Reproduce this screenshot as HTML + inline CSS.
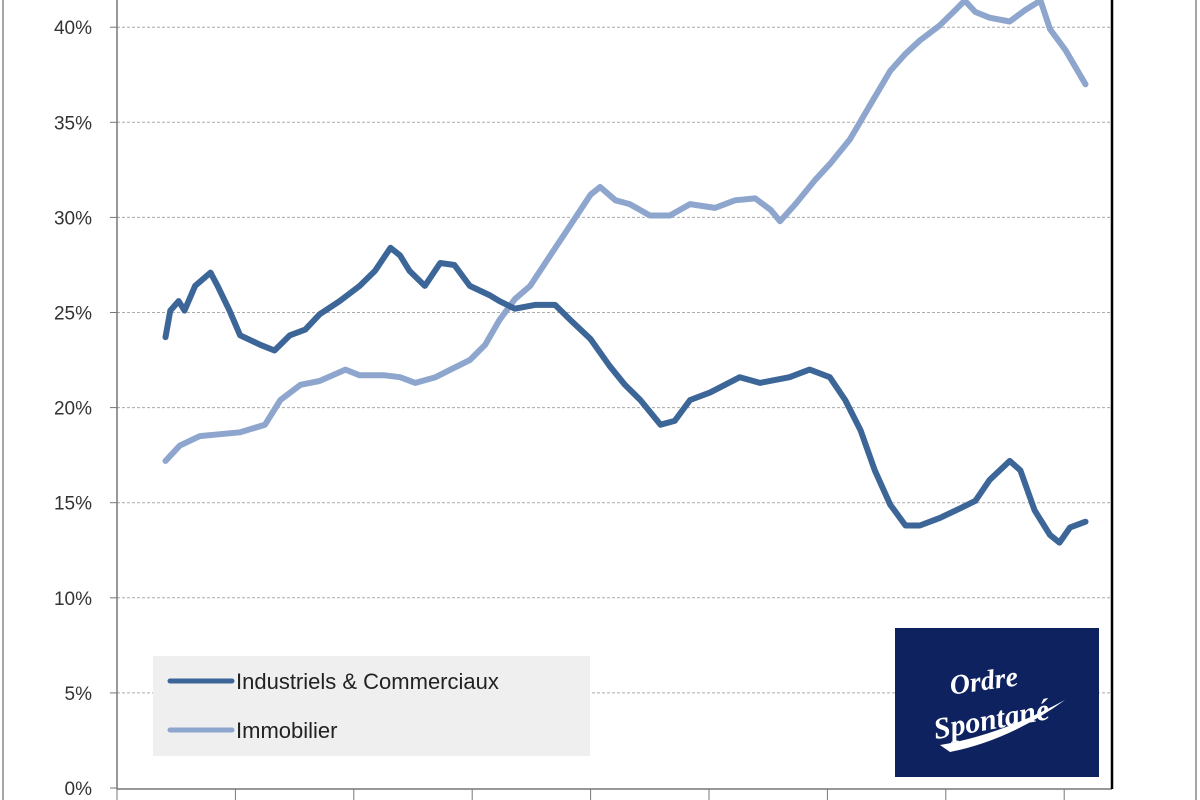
<!DOCTYPE html>
<html><head><meta charset="utf-8"><style>
html,body{margin:0;padding:0;background:#fff;}
svg{display:block;font-family:"Liberation Sans",sans-serif;}
</style></head><body>
<svg id="chart" width="1200" height="800" viewBox="0 0 1200 800">
<rect x="3" y="-5" width="1193" height="810" fill="#fff" stroke="#888" stroke-width="1.5"/>
<g id="grid"></g>
<g id="yticks"></g>
<g id="xticks"></g>
<line x1="117" y1="0" x2="117" y2="789" stroke="#777" stroke-width="1.5"/>
<line x1="117" y1="789" x2="1112" y2="789" stroke="#777" stroke-width="1.5"/>
<line x1="1112" y1="0" x2="1112" y2="789" stroke="#000" stroke-width="2.5"/>
<g id="series"></g>
<g>
<rect x="153" y="656" width="437" height="100" fill="#efefef"/>
<line x1="170" y1="681" x2="232" y2="681" stroke="#3d6698" stroke-width="5" stroke-linecap="round"/>
<text x="236" y="689" font-size="22" fill="#222">Industriels &amp; Commerciaux</text>
<line x1="170" y1="730" x2="232" y2="730" stroke="#8ea6cd" stroke-width="5" stroke-linecap="round"/>
<text x="236" y="738" font-size="22" fill="#222">Immobilier</text>
</g>
<g>
<rect x="895" y="628" width="204" height="149" fill="#0e2260"/>
<text x="985" y="690" font-size="28" font-weight="bold" font-style="italic" font-family="Liberation Serif,serif" fill="#fff" text-anchor="middle" transform="rotate(-8 985 690)">Ordre</text>
<text x="993" y="729" font-size="30" font-weight="bold" font-style="italic" font-family="Liberation Serif,serif" fill="#fff" text-anchor="middle" transform="rotate(-10 993 729)">Spontané</text>
<path d="M940 745 Q1000 735 1065 700 Q1010 740 950 752 Z" fill="#fff"/>
</g>
</svg>
<script>
const yTicks = [0,5,10,15,20,25,30,35,40];
const xTickCount = [0,1,2,3,4,5,6,7,8];
const indT = [0.41,0.45,0.52,0.57,0.66,0.79,0.85,0.95,1.04,1.21,1.33,1.46,1.59,1.71,1.88,2.05,2.18,2.31,2.39,2.47,2.60,2.73,2.85,2.98,3.15,3.23,3.36,3.53,3.70,3.83,4.00,4.16,4.29,4.42,4.59,4.71,4.84,5.01,5.26,5.43,5.68,5.85,6.02,6.15,6.28,6.40,6.53,6.66,6.78,6.95,7.12,7.25,7.37,7.54,7.63,7.75,7.88,7.96,8.05,8.18];
const indV = [23.7,25.1,25.6,25.1,26.4,27.1,26.4,25.1,23.8,23.3,23.0,23.8,24.1,24.9,25.6,26.4,27.2,28.4,28.0,27.2,26.4,27.6,27.5,26.4,25.9,25.6,25.2,25.4,25.4,24.6,23.6,22.2,21.2,20.4,19.1,19.3,20.4,20.8,21.6,21.3,21.6,22.0,21.6,20.4,18.8,16.7,14.9,13.8,13.8,14.2,14.7,15.1,16.2,17.2,16.7,14.6,13.3,12.9,13.7,14.0];
const immT = [0.41,0.53,0.70,0.87,1.04,1.25,1.38,1.55,1.71,1.93,2.05,2.26,2.39,2.52,2.69,2.85,2.98,3.11,3.23,3.36,3.49,3.66,3.83,4.00,4.08,4.21,4.33,4.50,4.67,4.84,5.05,5.22,5.39,5.52,5.60,5.73,5.90,6.02,6.19,6.36,6.53,6.66,6.78,6.95,7.08,7.16,7.25,7.37,7.54,7.67,7.80,7.88,8.01,8.18];
const immV = [17.2,18.0,18.5,18.6,18.7,19.1,20.4,21.2,21.4,22.0,21.7,21.7,21.6,21.3,21.6,22.1,22.5,23.3,24.6,25.7,26.4,28.0,29.6,31.2,31.6,30.9,30.7,30.1,30.1,30.7,30.5,30.9,31.0,30.4,29.8,30.7,32.0,32.8,34.1,35.9,37.7,38.6,39.3,40.1,40.9,41.4,40.8,40.5,40.3,40.9,41.4,39.9,38.8,37.0];

const NS = "http://www.w3.org/2000/svg";
const xS = t => 117 + t * 118.4;
const yS = v => 788 - v * 19.02;
const grid = document.getElementById('grid');
const yt = document.getElementById('yticks');
yTicks.forEach(v => {
  if (v > 0) {
    const l = document.createElementNS(NS, 'line');
    l.setAttribute('x1', 117); l.setAttribute('x2', 1110);
    l.setAttribute('y1', yS(v)); l.setAttribute('y2', yS(v));
    l.setAttribute('stroke', '#aaa'); l.setAttribute('stroke-dasharray', '3,2');
    
    
    grid.appendChild(l);
  }
  const tk = document.createElementNS(NS, 'line');
  tk.setAttribute('x1', 110); tk.setAttribute('x2', 117);
  tk.setAttribute('y1', yS(v)); tk.setAttribute('y2', yS(v));
  tk.setAttribute('stroke', '#777');
  
  
  yt.appendChild(tk);
  const t = document.createElementNS(NS, 'text');
  t.setAttribute('x', 92); t.setAttribute('y', yS(v) + 7);
  t.setAttribute('text-anchor', 'end'); t.setAttribute('font-size', '19');
  t.setAttribute('fill', '#333');
  t.textContent = v + '%';
  
  
  yt.appendChild(t);
});
const xt = document.getElementById('xticks');
xTickCount.forEach(i => {
  const tk = document.createElementNS(NS, 'line');
  tk.setAttribute('x1', xS(i)); tk.setAttribute('x2', xS(i));
  tk.setAttribute('y1', 789); tk.setAttribute('y2', 800);
  tk.setAttribute('stroke', '#777');
  
  
  xt.appendChild(tk);
});
const sg = document.getElementById('series');
function drawLine(ts, vs, color, name) {
  const p = document.createElementNS(NS, 'polyline');
  p.setAttribute('points', ts.map((t, i) => xS(t).toFixed(1) + ',' + yS(vs[i]).toFixed(1)).join(' '));
  p.setAttribute('fill', 'none'); p.setAttribute('stroke', color);
  p.setAttribute('stroke-width', '6'); p.setAttribute('stroke-linejoin', 'round');
  p.setAttribute('stroke-linecap', 'round');
  
  
  sg.appendChild(p);
}
drawLine(immT, immV, '#8ea6cd', 'series-immobilier');
drawLine(indT, indV, '#3d6698', 'series-industriels-commerciaux');
</script>
</body></html>
